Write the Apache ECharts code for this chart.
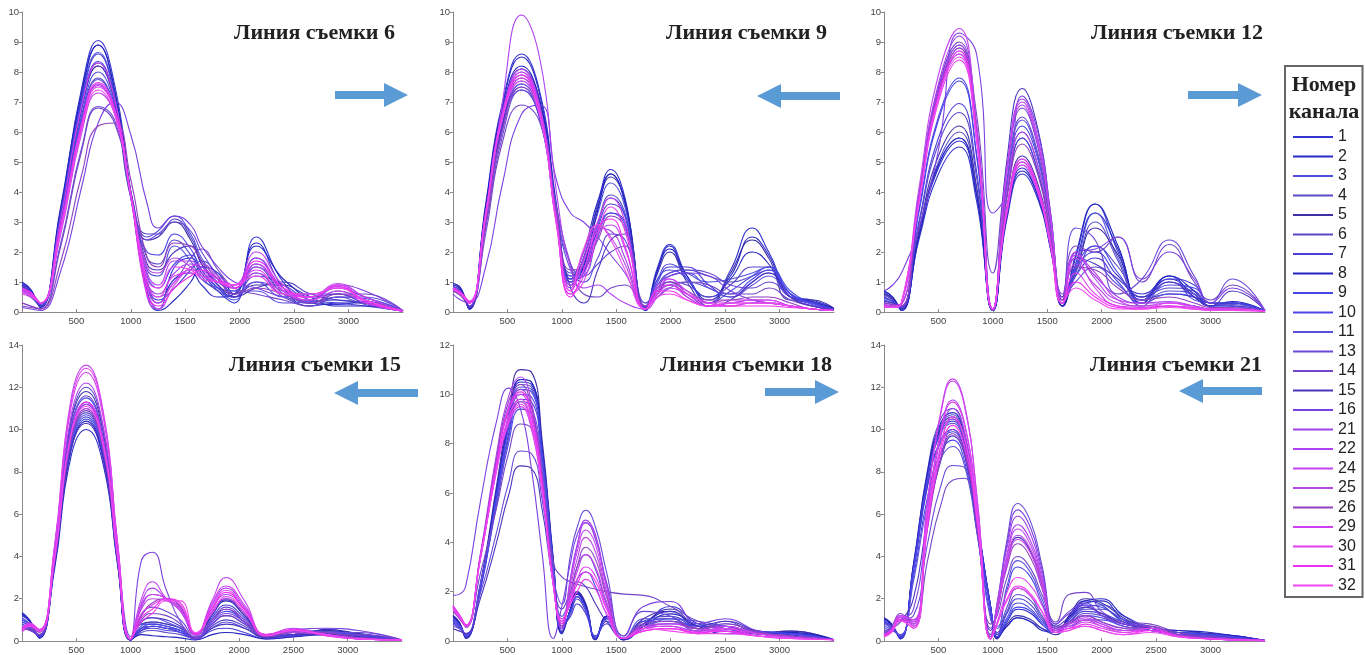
<!DOCTYPE html>
<html><head><meta charset="utf-8">
<script src="https://cdn.jsdelivr.net/npm/echarts@6/dist/echarts.min.js"></script>
<style>html,body{margin:0;padding:0;background:#fff}#c{width:1365px;height:655px}</style>
</head><body><div id="c"></div>
<script>
// ---- legend / channels ----
const channels = ['1','2','3','4','5','6','7','8','9','10','11','13','14','15','16','21','22','24','25','26','29','30','31','32'];
const colors = ['#3434d0','#2a2ac8','#5050e0','#5a4cc8','#3e30a8','#5848c8','#4a3ed8','#2424c0','#4646e8','#4c44e8','#5a50dc','#6a48d8','#7446c8','#4a34c0','#7a40e0','#a040e8','#b040f0','#c444f0','#b848e0','#9040c0','#d040f0','#e040f0','#f030f0','#f048f0'];
const titles = ['Линия съемки 6','Линия съемки 9','Линия съемки 12','Линия съемки 15','Линия съемки 18','Линия съемки 21'];
const yMax = [10,10,10,14,12,14];
const yStep = [1,1,1,2,2,2];
const xMax = 3500, xStep = 500;

// ---- Линия съемки 6 ----
const xs1 = [0,80,170,350,550,700,850,1000,1150,1250,1400,1550,1650,1800,1950,2150,2400,2650,2900,3150,3500];
const vals1 = [
[0.95,0.75,0.15,3.3,7.5,9.05,7.6,4.0,0.7,0.1,1.5,1.8,1.3,0.7,0.3,2.5,1.0,0.3,0.25,0.35,0.03],
[0.9,0.7,0.2,3.2,7.4,8.9,7.4,3.9,0.9,0.3,1.1,1.3,0.9,0.5,0.6,2.3,0.8,0.2,0.3,0.3,0.03],
[0.85,0.65,0.2,3.1,7.2,8.65,7.3,3.9,1.4,1.2,2.2,1.7,1.1,0.8,0.7,1.8,0.7,0.35,0.4,0.3,0.03],
[0.8,0.6,0.25,3.0,6.9,8.3,7.1,3.9,1.8,1.6,2.4,1.9,1.2,0.7,0.5,1.5,0.6,0.2,0.5,0.25,0.03],
[0.9,0.7,0.2,2.9,6.8,8.2,7.0,3.8,2.4,2.5,3.0,2.4,1.6,0.9,0.6,0.9,0.9,0.5,0.6,0.3,0.04],
[0.7,0.55,0.2,2.8,6.5,7.8,6.8,3.8,2.6,2.6,3.1,2.5,1.7,1.0,0.8,1.3,0.5,0.3,0.7,0.4,0.04],
[0.95,0.7,0.15,3.3,7.1,8.6,7.2,3.9,1.0,0.4,0.8,1.4,1.7,1.2,0.5,1.2,0.9,0.4,0.3,0.2,0.03],
[1.0,0.75,0.15,3.4,7.3,8.9,7.4,3.9,0.6,0.05,0.4,1.0,1.5,1.3,0.6,2.2,1.1,0.5,0.2,0.2,0.03],
[0.85,0.65,0.2,3.1,7.0,8.35,7.1,3.8,1.2,0.8,1.6,1.9,1.4,0.8,0.4,1.6,0.7,0.3,0.5,0.45,0.03],
[0.75,0.6,0.25,2.9,6.6,8.0,6.9,3.9,2.0,1.9,2.6,2.1,1.4,0.8,0.5,1.0,0.5,0.6,0.6,0.3,0.03],
[0.7,0.5,0.2,2.7,6.4,7.75,6.8,4.0,2.5,2.7,3.2,2.6,1.8,1.1,0.7,0.7,0.3,0.4,0.8,0.5,0.04],
[0.3,0.2,0.1,2.2,5.5,6.85,6.4,4.0,2.4,2.6,3.0,2.7,2.0,1.2,0.6,1.0,0.7,0.3,0.5,0.5,0.04],
[0.2,0.15,0.1,2.1,5.4,6.8,6.3,3.9,1.0,0.5,1.0,1.8,2.1,1.4,0.8,0.6,0.4,0.2,0.6,0.6,0.04],
[0.85,0.65,0.2,3.0,6.8,8.2,7.1,4.0,1.6,1.4,2.0,2.2,1.6,0.9,0.5,0.8,1.0,0.6,0.4,0.3,0.03],
[0.15,0.1,0.05,1.3,4.2,6.3,7.0,5.9,3.6,2.8,3.2,2.9,2.2,1.5,1.0,0.8,0.5,0.4,0.9,0.7,0.05],
[0.7,0.6,0.3,2.7,6.3,7.6,6.7,3.9,1.0,0.6,1.3,1.6,1.5,1.1,0.8,1.5,0.8,0.5,0.85,0.4,0.03],
[0.65,0.55,0.3,2.6,6.2,7.55,6.7,3.9,1.3,0.9,1.7,1.7,1.4,1.1,0.9,1.8,0.8,0.4,0.9,0.5,0.03],
[0.75,0.6,0.3,2.8,6.3,7.6,6.7,3.8,0.5,0.1,0.9,1.5,1.6,1.2,0.9,2.0,0.9,0.5,0.95,0.5,0.03],
[0.6,0.5,0.3,2.5,6.0,7.3,6.6,3.9,1.5,1.3,1.8,1.5,1.2,1.0,0.8,1.3,0.7,0.6,0.8,0.4,0.03],
[0.3,0.2,0.1,1.6,4.6,6.2,6.3,4.4,1.8,1.5,2.3,2.2,1.7,1.1,0.6,0.8,0.6,0.3,0.6,0.4,0.04],
[0.75,0.65,0.3,3.0,6.9,8.3,7.1,3.9,0.8,0.3,1.0,1.4,1.3,1.0,0.8,1.6,0.7,0.4,0.7,0.3,0.03],
[0.7,0.55,0.3,2.6,6.2,7.5,6.7,3.9,0.9,0.5,1.2,1.3,1.2,1.0,0.9,1.4,0.6,0.5,0.9,0.4,0.03],
[0.8,0.65,0.3,2.7,6.3,7.65,6.8,3.9,0.6,0.2,0.8,1.2,1.4,1.1,0.8,1.7,0.8,0.5,0.85,0.35,0.03],
[0.65,0.55,0.3,2.6,6.1,7.4,6.6,3.9,1.1,0.8,1.5,1.4,1.1,1.0,0.9,1.2,0.6,0.6,0.8,0.4,0.03]
];

// ---- Линия съемки 9 ----
const xs2 = [0,70,150,300,450,630,800,950,1080,1200,1330,1450,1580,1770,1880,1990,2150,2350,2550,2750,2900,3100,3300,3500];
const vals2 = [
[0.95,0.8,0.1,3.6,6.9,8.6,7.3,3.6,1.0,1.8,3.6,4.75,3.8,0.1,1.5,2.25,1.2,0.3,1.4,2.8,2.0,0.6,0.35,0.1],
[0.9,0.75,0.1,3.5,6.8,8.5,7.2,3.5,1.1,2.0,3.7,4.6,3.6,0.05,1.4,2.2,1.1,0.5,1.2,2.5,1.9,0.5,0.4,0.12],
[0.85,0.7,0.15,3.3,6.5,8.1,6.9,3.3,1.0,1.6,3.3,4.3,3.5,0.1,1.1,1.6,1.3,1.0,1.1,1.3,1.5,0.7,0.3,0.1],
[0.8,0.65,0.15,3.2,6.3,7.9,6.8,3.3,1.2,1.5,3.0,3.9,3.3,0.15,0.9,1.3,1.4,1.2,1.0,1.2,1.4,0.6,0.3,0.1],
[0.9,0.75,0.1,3.4,6.6,8.1,7.0,3.4,1.1,1.8,3.5,4.5,3.7,0.1,1.3,2.0,1.0,0.2,1.3,2.4,1.8,0.4,0.4,0.12],
[0.75,0.6,0.15,3.0,6.1,7.6,6.6,3.2,1.3,1.4,2.8,3.6,3.2,0.2,0.8,1.0,0.9,0.5,0.9,1.5,1.5,0.5,0.3,0.1],
[0.85,0.7,0.1,3.3,6.3,7.4,6.4,3.0,1.0,1.3,2.7,3.3,3.0,0.1,1.0,1.5,1.5,0.9,0.5,1.0,1.3,0.6,0.3,0.1],
[0.95,0.8,0.1,3.5,6.7,8.2,7.0,3.4,0.9,1.5,3.4,4.6,3.7,0.05,1.4,2.1,1.2,0.4,1.1,2.0,1.6,0.5,0.35,0.12],
[0.8,0.65,0.15,3.2,6.2,7.5,6.4,3.1,1.2,1.4,2.9,3.8,3.2,0.15,1.1,1.4,1.1,0.3,0.7,1.2,1.5,0.6,0.25,0.1],
[0.8,0.65,0.15,3.1,6.2,7.7,6.7,3.3,1.1,1.2,2.5,3.3,2.9,0.2,0.9,1.2,1.3,0.8,0.6,1.1,1.4,0.6,0.3,0.1],
[0.75,0.6,0.2,3.0,6.0,7.6,6.7,3.4,1.4,1.0,1.8,2.6,2.4,0.3,0.7,0.9,1.0,0.8,0.5,0.9,1.2,0.5,0.2,0.1],
[0.7,0.6,0.2,2.8,5.8,7.4,6.5,3.4,1.6,1.2,1.6,2.0,2.2,0.3,0.8,1.3,1.4,1.3,0.9,0.8,1.0,0.5,0.2,0.08],
[0.7,0.55,0.2,2.6,5.6,6.9,6.3,3.5,1.6,0.6,0.5,0.8,0.9,0.2,0.5,0.8,1.0,0.9,0.6,0.6,0.8,0.4,0.2,0.08],
[0.8,0.65,0.15,3.1,6.2,7.8,6.7,3.2,0.8,0.3,1.4,2.4,2.6,0.15,0.6,0.9,0.6,0.2,0.4,1.0,1.3,0.5,0.2,0.08],
[0.6,0.4,0.3,1.5,4.2,6.6,6.9,4.4,3.3,3.0,2.5,1.9,1.3,0.2,0.6,1.2,1.3,1.2,0.7,0.4,0.3,0.2,0.1,0.05],
[0.8,0.65,0.3,3.2,6.4,8.0,6.8,3.2,0.8,1.8,2.8,2.7,1.8,0.1,0.7,1.0,0.5,0.2,0.3,0.3,0.3,0.2,0.1,0.05],
[0.75,0.6,0.35,2.9,6.9,9.9,8.4,4.0,1.5,0.8,0.9,0.6,0.3,0.1,0.5,0.8,0.6,0.2,0.3,0.4,0.4,0.2,0.1,0.05],
[0.8,0.65,0.3,3.3,6.6,8.1,6.8,3.0,0.6,1.2,2.6,2.9,2.1,0.1,0.9,1.1,0.6,0.3,0.4,0.4,0.3,0.2,0.1,0.05],
[0.75,0.6,0.35,3.1,6.4,7.9,6.7,3.1,0.9,2.0,2.9,2.5,1.6,0.1,0.8,0.9,0.5,0.2,0.2,0.3,0.3,0.2,0.1,0.05],
[0.7,0.55,0.3,2.9,6.0,7.5,6.6,3.3,1.4,1.5,2.4,3.2,2.8,0.2,0.7,1.0,0.7,0.4,0.4,0.5,0.5,0.3,0.1,0.06],
[0.8,0.65,0.35,3.3,6.5,8.0,6.7,3.1,0.7,1.7,3.0,3.8,3.0,0.1,0.7,1.1,0.7,0.3,0.3,0.4,0.4,0.2,0.1,0.05],
[0.75,0.6,0.3,3.2,6.4,7.8,6.6,3.0,0.6,1.0,2.6,3.5,2.7,0.1,0.6,0.9,0.6,0.3,0.2,0.3,0.3,0.2,0.1,0.05],
[0.8,0.65,0.35,3.3,6.5,7.9,6.6,2.9,0.5,1.4,2.8,3.1,2.2,0.1,0.7,0.7,0.4,0.2,0.2,0.2,0.2,0.15,0.1,0.05],
[0.75,0.6,0.3,3.2,6.4,7.7,6.5,2.9,0.7,2.1,2.9,2.4,1.4,0.1,0.5,0.6,0.4,0.2,0.3,0.3,0.3,0.2,0.1,0.05]
];

// ---- Линия съемки 12 ----
const xs3 = [0,80,160,320,500,690,850,1000,1130,1270,1420,1530,1640,1760,1940,2150,2370,2620,2850,3000,3200,3500];
const vals3 = [
[0.7,0.5,0.05,2.4,4.6,5.5,3.7,0.05,3.1,4.6,3.7,2.1,0.2,1.8,3.6,2.0,0.4,1.2,0.5,0.2,0.3,0.03],
[0.65,0.45,0.1,2.5,4.8,5.7,3.9,0.05,3.3,4.8,3.8,2.2,0.2,1.6,3.3,2.1,0.3,1.1,0.6,0.2,0.3,0.03],
[0.6,0.4,0.1,2.6,4.9,5.8,3.9,0.05,3.3,4.9,3.9,2.2,0.3,1.5,3.3,1.8,0.5,1.2,0.4,0.3,0.2,0.03],
[0.55,0.4,0.1,2.6,5.0,6.0,4.1,0.05,3.4,5.0,4.0,2.3,0.3,1.4,3.0,1.7,0.2,1.0,0.6,0.2,0.25,0.03],
[0.6,0.45,0.1,2.7,5.2,6.2,4.2,0.05,3.5,5.2,4.2,2.3,0.2,1.3,2.8,1.9,0.4,0.6,0.5,0.3,0.3,0.03],
[0.5,0.35,0.15,2.9,5.6,6.65,4.5,0.05,3.9,5.8,4.6,2.6,0.3,1.2,2.2,1.5,0.5,0.8,0.7,0.2,0.2,0.03],
[0.5,0.35,0.15,3.0,5.8,6.95,4.7,0.05,3.9,5.8,4.6,2.6,0.3,1.4,2.0,1.2,0.6,1.1,0.9,0.3,0.3,0.03],
[0.7,0.5,0.05,2.5,4.9,5.8,3.9,0.05,3.2,4.7,3.8,2.1,0.2,1.9,3.6,2.2,0.3,1.2,0.7,0.2,0.35,0.03],
[0.45,0.35,0.15,3.3,6.4,7.7,5.2,0.05,4.1,6.0,4.8,2.7,0.3,1.5,2.2,1.3,0.4,0.9,0.8,0.3,0.3,0.03],
[0.4,0.3,0.15,3.4,6.5,7.8,5.3,0.05,4.2,6.2,5.0,2.8,0.3,1.2,1.8,1.0,0.3,0.6,0.5,0.2,0.2,0.03],
[0.35,0.3,0.2,3.7,7.2,8.6,5.8,0.05,4.4,6.4,5.1,2.9,0.4,1.0,1.5,0.9,0.4,0.7,0.6,0.3,0.2,0.03],
[0.3,0.25,0.2,3.8,7.3,8.8,6.0,0.1,4.4,6.5,5.2,2.9,0.4,2.8,2.4,0.6,1.1,2.4,1.2,0.3,1.1,0.05],
[0.3,0.25,0.2,3.9,7.5,9.0,6.6,1.3,4.8,6.8,5.4,3.0,0.5,2.2,2.0,2.5,1.0,2.25,1.0,0.4,0.9,0.05],
[0.35,0.3,0.2,3.8,7.4,8.9,6.1,0.1,5.1,7.45,6.0,3.3,0.5,1.8,1.6,1.1,0.5,1.0,0.5,0.2,0.7,0.04],
[0.7,0.9,1.3,2.8,5.4,9.3,8.6,3.3,4.0,7.2,5.9,3.3,0.6,2.0,2.1,2.5,1.1,2.0,1.1,0.3,0.8,0.05],
[0.25,0.2,0.25,3.9,7.6,9.2,6.3,0.1,4.8,7.1,5.7,3.2,0.4,1.9,1.2,0.5,0.3,0.3,0.2,0.1,0.1,0.03],
[0.25,0.2,0.25,3.8,7.4,8.9,6.1,0.1,4.7,6.9,5.5,3.1,0.4,2.0,1.1,0.4,0.3,0.35,0.2,0.1,0.1,0.03],
[0.2,0.2,0.3,4.1,7.9,9.45,6.2,0.1,4.8,7.0,5.6,3.1,0.4,1.9,1.3,0.4,0.2,0.3,0.2,0.1,0.1,0.03],
[0.25,0.2,0.25,3.7,7.2,8.7,6.0,0.1,4.1,6.0,4.8,2.7,0.4,1.6,0.9,0.3,0.2,0.2,0.15,0.1,0.1,0.03],
[0.3,0.25,0.2,3.8,7.3,8.8,6.0,0.1,3.8,5.6,4.5,2.5,0.4,1.5,1.4,0.8,0.4,0.5,0.3,0.15,0.15,0.03],
[0.2,0.2,0.3,3.7,7.2,8.6,5.9,0.1,3.5,5.1,4.1,2.3,0.3,1.8,0.8,0.2,0.15,0.2,0.1,0.1,0.1,0.03],
[0.2,0.15,0.3,3.6,7.0,8.4,5.7,0.1,3.5,5.1,4.1,2.3,0.3,1.3,0.6,0.2,0.1,0.3,0.15,0.1,0.1,0.03],
[0.15,0.15,0.3,3.7,7.2,8.7,5.9,0.1,3.4,5.0,4.0,2.2,0.3,1.0,0.5,0.15,0.1,0.2,0.1,0.05,0.05,0.03],
[0.15,0.15,0.3,3.6,7.1,8.5,5.8,0.1,3.3,4.9,3.9,2.2,0.3,0.8,0.4,0.1,0.1,0.15,0.1,0.05,0.05,0.03]
];

// ---- Линия съемки 15 ----
const xs4 = [0,70,160,300,450,590,750,880,1000,1100,1200,1330,1460,1600,1750,1880,2050,2250,2500,2800,3100,3500];
const vals4 = [
[1.35,1.0,0.15,3.6,9.1,10.5,8.7,3.8,0.05,0.6,0.8,0.7,0.5,0.1,1.3,2.0,1.3,0.2,0.3,0.5,0.3,0.05],
[1.2,0.9,0.15,3.4,8.7,10.0,8.3,3.6,0.05,0.5,0.7,0.6,0.4,0.1,1.2,1.9,1.2,0.2,0.2,0.55,0.35,0.05],
[1.1,0.8,0.2,3.7,9.2,10.6,8.8,3.8,0.05,0.7,0.9,0.8,0.6,0.15,1.0,1.5,0.9,0.2,0.4,0.5,0.3,0.05],
[1.0,0.75,0.2,3.8,9.4,10.8,9.0,3.9,0.05,0.4,0.5,0.4,0.3,0.1,0.8,1.2,0.8,0.15,0.3,0.4,0.3,0.05],
[1.3,0.95,0.15,4.1,10.3,11.8,9.8,4.2,0.05,0.8,0.9,0.8,0.6,0.1,1.3,1.95,1.2,0.2,0.3,0.5,0.35,0.05],
[0.9,0.7,0.2,4.2,10.4,12.0,10.0,4.3,0.05,0.6,0.7,0.6,0.5,0.1,0.7,1.0,0.7,0.2,0.3,0.45,0.3,0.05],
[0.8,0.6,0.2,3.9,9.8,11.3,9.4,4.1,0.05,0.5,0.6,0.5,0.4,0.1,0.5,0.6,0.4,0.1,0.2,0.4,0.25,0.05],
[1.25,0.95,0.15,3.6,9.0,10.4,8.6,3.7,0.05,0.3,0.25,0.2,0.15,0.05,0.3,0.4,0.3,0.1,0.2,0.3,0.2,0.05],
[1.0,0.8,0.2,4.0,10.0,11.5,9.5,4.1,0.05,0.8,0.8,0.7,0.5,0.1,1.1,1.7,1.1,0.2,0.3,0.4,0.3,0.05],
[0.9,0.7,0.2,3.7,9.3,10.7,8.9,3.9,0.05,0.6,0.7,0.6,0.4,0.1,0.9,1.4,0.9,0.15,0.25,0.35,0.25,0.05],
[0.8,0.6,0.25,3.8,9.5,10.9,9.0,3.9,0.05,0.9,1.1,0.9,0.6,0.15,0.6,0.9,0.6,0.15,0.3,0.3,0.2,0.05],
[0.7,0.6,0.25,4.0,10.1,11.6,9.6,4.2,0.05,1.2,1.6,1.4,1.0,0.2,1.0,1.6,1.0,0.2,0.3,0.4,0.4,0.05],
[0.6,0.55,0.3,3.8,9.6,11.0,9.1,4.0,0.05,1.0,1.3,1.2,0.8,0.15,0.8,1.2,0.8,0.2,0.4,0.3,0.3,0.05],
[0.7,0.55,0.25,3.6,9.0,10.3,8.5,3.7,0.05,0.9,1.1,1.0,0.7,0.1,0.6,0.8,0.6,0.15,0.3,0.3,0.2,0.05],
[0.6,0.5,0.3,3.9,9.7,11.2,9.3,4.0,0.2,3.8,4.2,2.4,0.9,0.1,0.8,1.3,0.9,0.2,0.5,0.6,0.5,0.05],
[0.55,0.7,0.45,3.9,9.7,11.2,9.3,4.0,0.1,1.6,2.2,2.0,1.5,0.3,1.5,2.2,1.5,0.3,0.5,0.3,0.15,0.05],
[0.5,0.75,0.5,4.2,10.6,12.2,10.1,4.4,0.1,1.8,2.5,2.0,1.6,0.3,1.7,2.5,1.6,0.3,0.6,0.3,0.1,0.05],
[0.6,0.8,0.5,4.5,11.4,13.05,10.8,4.7,0.1,2.0,2.8,2.0,1.4,0.3,1.9,3.0,1.9,0.3,0.5,0.3,0.1,0.05],
[0.5,0.7,0.45,3.8,9.6,11.0,9.1,4.0,0.1,1.5,2.0,1.9,1.4,0.25,1.4,2.0,1.3,0.25,0.4,0.3,0.1,0.05],
[0.45,0.6,0.4,3.8,9.5,10.9,9.0,3.9,0.1,1.2,1.8,2.0,1.6,0.3,1.0,1.5,1.0,0.2,0.45,0.4,0.15,0.05],
[0.55,0.8,0.55,4.4,11.0,12.7,10.5,4.6,0.1,1.7,2.2,2.0,1.5,0.3,1.8,2.6,1.7,0.3,0.5,0.25,0.1,0.05],
[0.6,0.85,0.5,4.5,11.2,12.9,10.7,4.6,0.1,1.3,1.7,2.0,1.7,0.35,1.6,2.4,1.5,0.3,0.5,0.3,0.1,0.05],
[0.5,0.75,0.5,3.9,9.8,11.3,9.4,4.1,0.1,1.1,1.5,2.0,1.8,0.35,1.5,2.3,1.5,0.3,0.55,0.25,0.1,0.05],
[0.45,0.7,0.45,3.9,9.7,11.1,9.2,4.0,0.1,0.9,1.3,1.9,1.9,0.4,1.3,2.1,1.4,0.25,0.5,0.3,0.1,0.05]
];

// ---- Линия съемки 18 ----
const xs5 = [0,60,120,250,400,510,620,720,820,920,1000,1080,1140,1220,1310,1410,1570,1750,2000,2250,2500,2800,3100,3500];
const vals5 = [
[1.0,0.75,0.15,2.2,6.1,8.9,10.6,10.5,7.8,3.3,0.4,1.3,2.0,1.5,0.1,1.0,0.05,0.6,1.4,0.7,0.5,0.4,0.25,0.05],
[0.95,0.7,0.15,2.2,6.0,8.8,10.5,10.4,7.8,3.2,0.35,1.3,1.95,1.4,0.1,0.9,0.05,0.7,1.2,0.6,0.6,0.3,0.3,0.05],
[0.9,0.7,0.2,2.1,5.9,8.7,10.3,10.2,7.6,3.2,0.5,1.2,1.9,1.4,0.15,0.95,0.1,0.5,0.9,0.5,0.7,0.4,0.3,0.05],
[0.85,0.6,0.2,2.1,5.8,8.4,10.0,9.9,7.4,3.1,0.4,1.2,1.8,1.3,0.1,0.8,0.05,0.6,0.8,0.4,0.8,0.35,0.4,0.05],
[1.05,0.75,0.15,2.3,6.3,9.2,11.0,10.9,8.1,3.4,0.3,1.3,2.0,1.5,0.05,1.0,0.05,0.7,1.3,0.6,0.5,0.3,0.4,0.05],
[0.8,0.6,0.2,2.1,6.0,8.8,10.4,10.3,7.7,3.2,0.5,1.1,1.7,1.2,0.2,0.8,0.1,0.8,1.0,0.5,0.4,0.3,0.2,0.05],
[0.75,0.55,0.2,2.0,5.7,8.3,9.8,9.7,7.3,3.0,0.6,1.0,1.5,1.1,0.2,0.7,0.1,0.5,0.7,0.6,0.5,0.3,0.3,0.05],
[1.0,0.7,0.1,2.2,6.1,8.9,10.6,10.5,7.8,3.3,0.3,1.3,1.9,1.4,0.05,1.0,0.05,0.6,1.1,0.6,0.3,0.3,0.35,0.05],
[0.9,0.65,0.2,2.1,5.9,8.6,10.2,10.1,7.6,3.2,0.5,1.2,1.8,1.3,0.15,0.9,0.1,0.7,0.9,0.8,0.6,0.4,0.3,0.05],
[0.7,0.5,0.25,2.2,5.5,8.0,9.4,9.2,6.9,2.9,0.9,1.5,2.5,2.8,2.2,1.1,0.1,0.8,0.8,0.6,0.5,0.3,0.2,0.05],
[0.8,0.6,0.25,2.3,5.6,8.2,9.7,9.5,7.1,3.0,1.0,1.8,3.0,3.5,2.9,1.5,0.1,0.9,0.9,0.7,0.6,0.3,0.2,0.05],
[0.6,0.5,0.3,1.9,4.4,6.4,7.7,7.6,5.7,2.6,1.5,3.5,4.6,5.3,4.6,2.8,0.2,1.2,1.0,0.5,0.6,0.3,0.2,0.05],
[1.2,1.0,0.6,2.7,5.4,7.6,8.8,8.6,6.4,3.2,2.6,2.4,2.3,2.2,2.1,2.0,1.9,1.85,1.4,0.8,0.5,0.3,0.2,0.05],
[0.5,0.4,0.3,1.7,4.0,5.9,7.1,7.0,5.3,2.4,1.3,2.0,2.4,2.2,1.5,0.8,0.1,0.9,1.2,0.6,0.8,0.4,0.2,0.05],
[1.85,1.9,2.3,5.6,8.9,10.25,9.4,7.0,3.5,0.1,1.4,3.2,4.3,4.8,4.1,2.4,0.2,1.4,1.6,0.7,0.9,0.4,0.2,0.05],
[1.4,1.0,0.6,3.4,7.3,9.5,10.2,9.3,6.4,2.4,0.6,2.6,3.9,4.9,4.3,2.3,0.1,0.6,0.7,0.5,0.6,0.3,0.2,0.05],
[1.35,1.0,0.6,3.5,7.6,9.9,10.7,9.7,6.7,2.5,0.5,2.5,3.8,4.8,4.2,2.2,0.1,0.5,0.6,0.4,0.5,0.3,0.2,0.05],
[1.45,1.05,0.65,3.4,7.2,9.3,10.0,9.1,6.3,2.4,0.7,2.4,3.6,4.5,3.9,2.0,0.1,0.5,0.7,0.5,0.4,0.2,0.15,0.05],
[1.3,0.95,0.6,3.3,7.0,9.0,9.7,8.8,6.1,2.3,0.7,2.2,3.3,4.2,3.6,1.9,0.1,0.6,0.6,0.4,0.5,0.3,0.2,0.05],
[1.2,0.9,0.55,3.4,7.4,9.7,10.4,9.5,6.6,2.5,0.6,2.0,3.0,3.8,3.3,1.8,0.1,0.7,0.8,0.5,0.7,0.35,0.2,0.05],
[1.4,1.0,0.65,3.3,6.9,8.8,9.5,8.6,6.0,2.3,0.8,1.9,2.8,3.5,3.0,1.6,0.1,0.5,0.6,0.3,0.6,0.3,0.15,0.05],
[1.35,1.0,0.6,3.3,7.0,9.1,9.8,8.9,6.2,2.3,0.7,1.7,2.5,3.0,2.6,1.4,0.1,0.4,0.5,0.3,0.5,0.2,0.1,0.05],
[1.4,1.05,0.65,3.4,7.2,9.4,10.1,9.2,6.4,2.4,0.8,1.6,2.3,2.8,2.4,1.3,0.1,0.4,0.5,0.35,0.4,0.2,0.1,0.05],
[1.3,0.95,0.6,3.3,6.9,8.9,9.6,8.7,6.1,2.3,0.9,1.5,2.0,2.5,2.1,1.1,0.1,0.5,0.4,0.3,0.3,0.2,0.1,0.05]
];

// ---- Линия съемки 21 ----
const xs6 = [0,70,150,270,400,520,630,740,860,980,1040,1130,1230,1350,1450,1580,1700,1850,2000,2200,2450,2700,3000,3500];
const vals6 = [
[1.1,0.8,0.15,3.3,7.4,9.5,10.0,8.9,5.2,1.5,0.2,0.7,1.1,0.9,0.6,0.4,1.2,1.9,1.7,0.9,0.6,0.4,0.35,0.02],
[1.0,0.75,0.15,3.5,7.8,10.0,10.5,9.3,5.5,1.6,0.15,0.9,1.5,1.3,0.8,0.4,1.1,1.8,1.9,1.0,0.5,0.5,0.3,0.02],
[0.95,0.7,0.15,3.5,7.9,10.2,10.7,9.5,5.6,1.6,0.2,1.1,1.8,1.5,0.9,0.5,1.0,1.6,1.7,1.2,0.6,0.4,0.3,0.02],
[0.9,0.7,0.2,3.6,8.1,10.5,11.0,9.8,5.7,1.6,0.3,1.4,2.2,1.9,1.1,0.5,0.9,1.5,1.5,1.0,0.7,0.4,0.3,0.02],
[1.1,0.8,0.1,3.5,7.8,10.1,10.6,9.4,5.5,1.6,0.1,0.8,1.2,1.0,0.6,0.3,1.2,2.0,1.8,1.1,0.5,0.4,0.35,0.02],
[0.85,0.65,0.2,3.4,7.6,9.8,10.3,9.2,5.4,1.5,0.4,1.6,2.5,2.1,1.2,0.5,0.8,1.3,1.2,0.8,0.6,0.4,0.25,0.02],
[0.8,0.6,0.2,3.3,7.3,9.4,9.9,8.8,5.1,1.5,0.3,1.3,2.0,1.7,1.0,0.5,0.9,1.4,1.3,0.9,0.6,0.3,0.3,0.02],
[1.05,0.8,0.1,3.6,8.0,10.3,10.8,9.6,5.6,1.6,0.15,0.7,1.1,0.9,0.5,0.4,1.1,1.9,2.0,1.2,0.6,0.5,0.4,0.02],
[0.9,0.7,0.15,3.4,7.7,9.9,10.4,9.3,5.4,1.6,0.2,1.0,1.6,1.4,0.8,0.4,1.0,1.7,1.6,1.0,0.5,0.4,0.3,0.02],
[0.7,0.55,0.25,3.0,6.8,8.9,9.5,8.5,5.0,1.2,0.6,2.4,3.5,3.0,1.8,0.6,0.8,1.2,1.1,0.7,0.5,0.3,0.2,0.02],
[0.6,0.5,0.3,2.8,6.5,8.6,9.2,8.3,4.9,1.0,0.7,2.6,3.8,3.2,2.0,0.7,0.7,1.0,1.0,0.7,0.5,0.3,0.2,0.02],
[0.4,0.6,1.0,1.2,4.6,7.3,8.3,8.2,5.0,0.6,1.6,4.8,6.5,5.6,3.6,0.8,1.4,1.8,1.2,0.8,0.6,0.3,0.2,0.02],
[0.3,0.7,1.3,0.7,3.8,6.4,7.6,7.7,5.0,0.8,1.2,3.0,4.0,3.4,2.2,0.9,2.2,2.3,1.4,0.9,0.8,0.4,0.2,0.02],
[0.5,0.6,0.9,2.0,5.8,8.5,9.7,8.8,5.2,0.5,1.4,3.7,4.9,4.2,2.7,0.7,1.1,1.6,1.3,0.8,0.6,0.3,0.2,0.02],
[0.4,0.6,1.0,1.5,5.6,8.6,10.0,9.0,5.4,0.3,1.8,4.6,6.2,5.3,3.4,0.8,1.3,1.7,1.2,0.8,0.7,0.3,0.2,0.02],
[0.3,0.5,1.1,0.9,5.9,9.6,11.0,9.9,5.8,0.1,1.8,4.4,5.9,5.0,3.2,0.6,0.9,1.2,0.9,0.6,0.5,0.3,0.1,0.02],
[0.35,0.55,1.15,0.8,6.1,9.9,11.4,10.3,6.0,0.1,1.6,4.1,5.5,4.7,3.0,0.5,0.8,1.1,0.8,0.5,0.6,0.3,0.1,0.02],
[0.3,0.5,1.2,0.9,6.6,10.8,12.4,11.2,6.5,0.1,1.6,4.0,5.3,4.5,2.9,0.5,0.7,1.0,0.8,0.5,0.5,0.25,0.1,0.02],
[0.25,0.45,1.0,0.8,5.6,9.2,10.5,9.5,5.6,0.1,1.5,3.8,5.0,4.3,2.8,0.5,0.8,1.0,0.7,0.5,0.6,0.3,0.1,0.02],
[0.35,0.5,1.0,1.0,5.3,8.6,9.8,8.9,5.3,0.2,1.4,3.5,4.6,3.9,2.5,0.6,0.9,1.2,0.9,0.6,0.7,0.3,0.15,0.02],
[0.3,0.55,1.2,1.0,6.6,10.7,12.3,11.1,6.5,0.1,1.4,3.6,4.8,4.1,2.6,0.5,0.6,0.9,0.7,0.4,0.5,0.25,0.1,0.02],
[0.25,0.5,1.1,0.7,6.0,9.8,11.3,10.2,6.0,0.1,0.9,2.3,3.0,2.6,1.7,0.4,0.5,0.8,0.6,0.4,0.6,0.2,0.1,0.02],
[0.2,0.45,1.0,0.6,5.4,8.9,10.2,9.2,5.4,0.1,0.8,2.0,2.6,2.2,1.4,0.4,0.6,0.7,0.5,0.3,0.5,0.2,0.1,0.02],
[0.2,0.4,0.95,0.6,5.6,9.2,10.6,9.6,5.6,0.1,0.8,1.9,2.5,2.1,1.4,0.4,0.5,0.7,0.5,0.3,0.4,0.2,0.1,0.02]
];

// ---------------- build ----------------
const W = 1365;
const xsAll = [xs1, xs2, xs3, xs4, xs5, xs6];
const valsAll = [vals1, vals2, vals3, vals4, vals5, vals6];
const grids = [
  {left:22, top:12, width:381, height:300},
  {left:453, top:12, width:381, height:300},
  {left:884, top:12, width:381, height:300},
  {left:22, top:345, width:380, height:299},
  {left:453, top:345, width:381, height:299},
  {left:884, top:345, width:381, height:299}
];
const titleRight = [395, 827, 1263, 401, 832, 1262];
const titleTop = [22, 22, 22, 354, 354, 354];
const arrows = [[335,408,95],[840,757,96],[1188,1262,95],[418,334,393],[765,839,392],[1262,1179,391]];

const axisCol = '#8a8a8a';
const xAxes = [], yAxes = [], series = [];
for (let p = 0; p < 6; p++) {
  xAxes.push({
    type:'value', gridIndex:p, min:0, max:xMax, interval:xStep,
    axisLine:{show:true, onZero:false, lineStyle:{color:axisCol, width:1}},
    axisTick:{show:true, inside:true, length:3, lineStyle:{color:axisCol}},
    axisLabel:{fontSize:9.5, color:'#444', margin:4, fontFamily:'Liberation Sans', showMinLabel:false, showMaxLabel:false,
      formatter: v => (v === 0 || v === xMax) ? '' : String(v)},
    splitLine:{show:false}
  });
  yAxes.push({
    type:'value', gridIndex:p, min:0, max:yMax[p], interval:yStep[p],
    axisLine:{show:true, lineStyle:{color:axisCol, width:1}},
    axisTick:{show:true, inside:false, length:3, lineStyle:{color:axisCol}},
    axisLabel:{fontSize:9.5, color:'#444', margin:3, fontFamily:'Liberation Sans'},
    splitLine:{show:false}
  });
  const xs = xsAll[p], vals = valsAll[p];
  for (let c = 0; c < channels.length; c++) {
    const row = vals[c];
    const n = Math.min(xs.length, row.length);
    const data = [];
    for (let i = 0; i < n; i++) data.push([xs[i], row[i]]);
    series.push({
      type:'line', name:channels[c], xAxisIndex:p, yAxisIndex:p, data:data,
      smooth:0.5, showSymbol:false, symbol:'none', clip:true,
      lineStyle:{width:1.1, color:colors[c]}, itemStyle:{color:colors[c]},
      emphasis:{disabled:true}, silent:true
    });
  }
}

const titleOpts = titles.map((t, i) => ({
  text:t, right: W - titleRight[i], top: titleTop[i], padding:0,
  textStyle:{fontFamily:'Liberation Serif', fontWeight:'bold', fontSize:22, color:'#222'}
}));
titleOpts.push({
  text:'Номер\nканала', left:1324, textAlign:'center', top:72, padding:0,
  textStyle:{fontFamily:'Liberation Serif', fontWeight:'bold', fontSize:22, lineHeight:27, color:'#222'}
});

const graphics = [];
arrows.forEach(a => {
  const tail = a[0], tip = a[1], yc = a[2];
  const dir = tip > tail ? 1 : -1;
  const base = tip - dir * 24, hh = 12, sh = 4;
  graphics.push({type:'polygon', silent:true,
    shape:{points:[[tail,yc-sh],[base,yc-sh],[base,yc-hh],[tip,yc],[base,yc+hh],[base,yc+sh],[tail,yc+sh]]},
    style:{fill:'#5B9BD5'}});
});
graphics.push({type:'rect', silent:true, shape:{x:1285, y:66, width:77.5, height:531},
  style:{fill:'none', stroke:'#666', lineWidth:2}});

const chart = echarts.init(document.getElementById('c'), null, {renderer:'canvas'});
chart.setOption({
  animation:false,
  backgroundColor:'#fff',
  title: titleOpts,
  legend:{orient:'vertical', left:1293, top:129, padding:0, itemWidth:40, itemHeight:2, itemGap:3.5,
    icon:'rect', data:channels, selectedMode:false,
    textStyle:{fontSize:16, fontFamily:'Liberation Sans', color:'#222', lineHeight:16}},
  grid: grids,
  xAxis: xAxes,
  yAxis: yAxes,
  series: series,
  graphic: graphics
});
</script>
</body></html>
